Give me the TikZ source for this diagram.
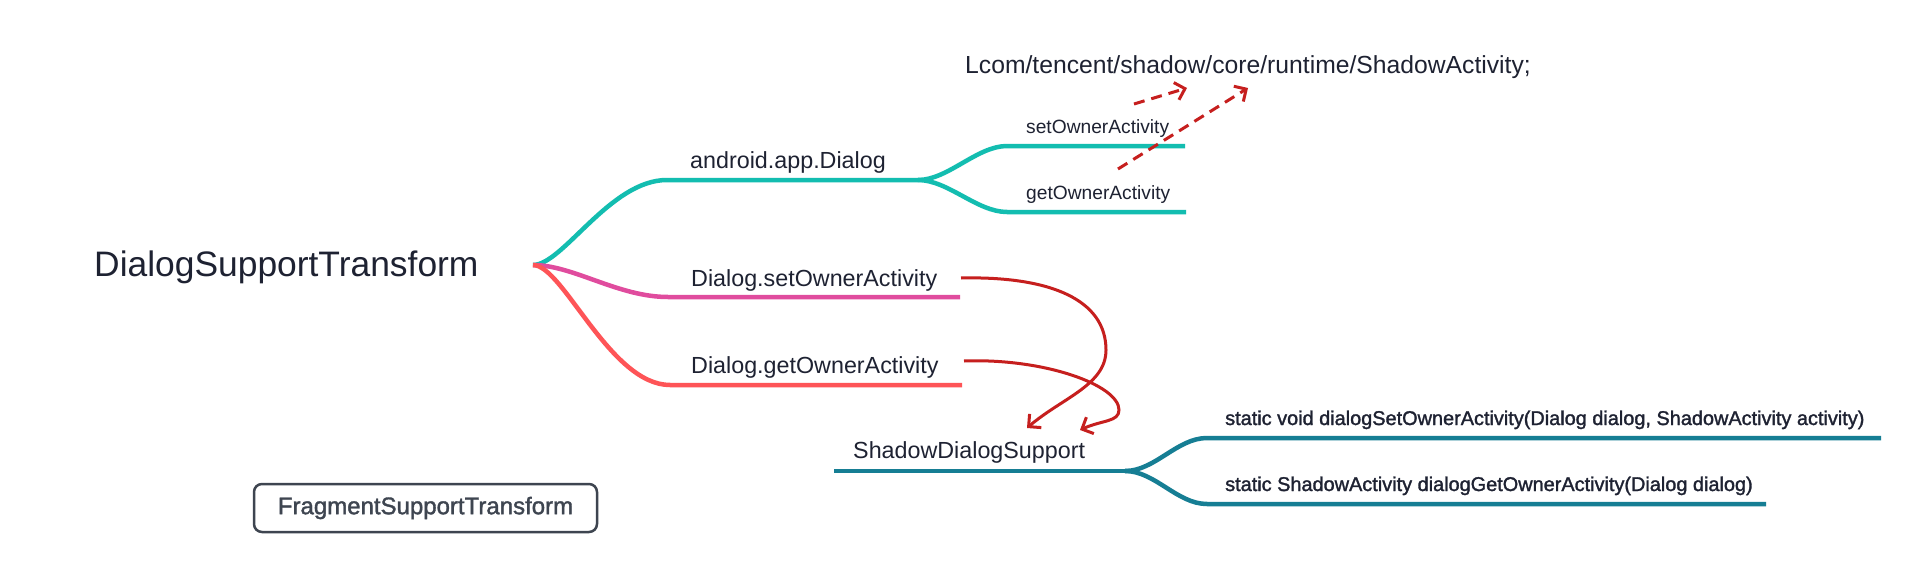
\documentclass[tikz,border=0pt]{standalone}
\usepackage{fontspec}
\setmainfont{Liberation Sans}
\newfontfamily\medfont[FakeBold=1.5]{Liberation Sans}
\usetikzlibrary{arrows.meta}
\definecolor{dlgteal}{HTML}{13BDB0}
\definecolor{dlgpink}{HTML}{E04C9E}
\definecolor{dlgcoral}{HTML}{FE5457}
\definecolor{sdsteal}{HTML}{167E94}
\definecolor{callred}{HTML}{C61F1E}
\definecolor{inktext}{HTML}{1E2232}
\definecolor{boxgray}{HTML}{3E4550}
\tikzset{
  label text/.style={anchor=base west, inner sep=0pt, text=inktext},
  root label/.style={label text, font=\fontsize{35.4}{40}\selectfont},
  big label/.style={label text, font=\fontsize{23.3}{28}\selectfont},
  small label/.style={label text, font=\fontsize{19.2}{23}\selectfont},
  method label/.style={label text, font=\medfont\fontsize{19.9}{23}\selectfont},
  other box/.style={draw=boxgray, line width=2.5pt, rounded corners=8pt, minimum width=343pt, minimum height=48pt, text=boxgray, font=\medfont\fontsize{24}{28}\selectfont},
  branch/.style={line width=4.5pt},
  call arrow/.style={draw=callred, line width=3pt, -{Straight Barb[length=9pt,width=18pt]}},
  ref arrow/.style={call arrow, dash pattern=on 11pt off 7pt},
}

\begin{document}
\begin{tikzpicture}[x=1pt,y=-1pt]
\path[fill=white] (0,0) rectangle (1920,578);
\useasboundingbox (0,0) rectangle (1920,578);
%the nodes
\node[root label] (root) at (94,276) {DialogSupportTransform};
\node[big label] (appdialog) at (690,168) {android.app.Dialog};
\node[small label] (setowner) at (1026,133) {setOwnerActivity};
\node[small label] (getowner) at (1026,199) {getOwnerActivity};
\node[label text, font=\fontsize{24.7}{29}\selectfont] (shadowact) at (965,74) {Lcom/tencent/shadow/core/runtime/ShadowActivity;};
\node[big label] (dlgset) at (691,286) {Dialog.setOwnerActivity};
\node[big label] (dlgget) at (691,373) {Dialog.getOwnerActivity};
\node[big label] (sds) at (853,458) {ShadowDialogSupport};
\node[method label] (sdsset) at (1225,425) {static void dialogSetOwnerActivity(Dialog dialog, ShadowActivity activity)};
\node[method label] (sdsget) at (1225,491) {static ShadowActivity dialogGetOwnerActivity(Dialog dialog)};
\node[other box] (fragment) at (425.5,508) {FragmentSupportTransform};
%branch points
\coordinate (hub) at (533,265);
\coordinate (dlgfork) at (918,180);
\coordinate (ownsetend) at (1185,146);
\coordinate (owngetend) at (1186,212);
\coordinate (dlgsetend) at (960,297);
\coordinate (dlggetend) at (962,385);
\coordinate (sdsstart) at (834,471);
\coordinate (sdsfork) at (1125,471);
\coordinate (sdssetend) at (1881,438);
\coordinate (sdsgetend) at (1766,504);
%the branches
\draw[branch, dlgteal] (hub) .. controls +(30,0) and +(-57,0) .. (667,180) -- (dlgfork);
\draw[branch, dlgteal] (dlgfork) .. controls +(30,0) and +(-30,0) .. (1007,146) -- (ownsetend);
\draw[branch, dlgteal] (dlgfork) .. controls +(30,0) and +(-30,0) .. (1007,212) -- (owngetend);
\draw[branch, dlgpink] (hub) .. controls +(40,0) and +(-50,0) .. (668,297) -- (dlgsetend);
\draw[branch, dlgcoral] (hub) .. controls +(30,0) and +(-60,0) .. (670,385) -- (dlggetend);
\draw[branch, sdsteal] (sdsstart) -- (sdsfork);
\draw[branch, sdsteal] (sdsfork) .. controls +(30,0) and +(-30,0) .. (1207,438) -- (sdssetend);
\draw[branch, sdsteal] (sdsfork) .. controls +(30,0) and +(-30,0) .. (1207,504) -- (sdsgetend);
%drawings of vectors
\coordinate (setcall) at (961,278);
\coordinate (getcall) at (964,361);
\coordinate (setin) at (1027,428);
\coordinate (getin) at (1080,430);
\draw[call arrow] (setcall) .. controls +(90,-2) and +(0,-50) .. (1106,350) .. controls +(0,35) and +(35,-30) .. (setin);
\draw[call arrow] (getcall) .. controls +(80,-3) and +(0,-25) .. (1119,410) .. controls +(0,12) and +(22,-10) .. (getin);
\coordinate (ownsetfrom) at (1134,104);
\coordinate (owngetfrom) at (1118,169);
\coordinate (actin1) at (1187,88);
\coordinate (actin2) at (1248,88);
\draw[ref arrow] (ownsetfrom) -- (actin1);
\draw[ref arrow] (owngetfrom) -- (actin2);
\end{tikzpicture}
\end{document}
